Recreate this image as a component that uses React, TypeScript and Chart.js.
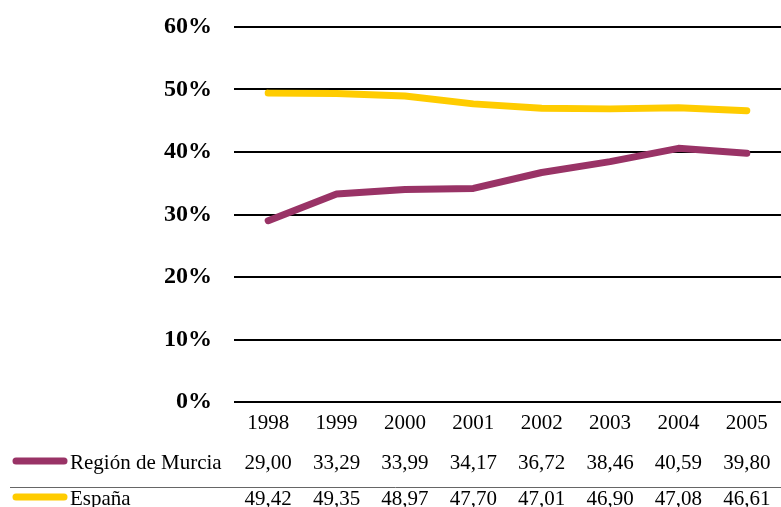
import React, { useEffect, useRef } from "react";
import { Chart, registerables } from "chart.js";

Chart.register(...registerables);

const years = ["1998", "1999", "2000", "2001", "2002", "2003", "2004", "2005"];
const murcia = [29.0, 33.29, 33.99, 34.17, 36.72, 38.46, 40.59, 39.8];
const espana = [49.42, 49.35, 48.97, 47.7, 47.01, 46.9, 47.08, 46.61];
const seriesNames = ["Región de Murcia", "España"];
const seriesColors = ["#993366", "#FFCC00"];
const yTicks = [0, 10, 20, 30, 40, 50, 60];

const FONT = "'Liberation Serif', 'Times New Roman', serif";

const fmt = (v: number) => v.toFixed(2).replace(".", ",");

const tablePlugin = {
  id: "dataTable",
  afterDraw(chart: any) {
    const ctx = chart.ctx;
    const xs = chart.scales.x;
    const rows = [murcia, espana];
    const baselines = [469, 505];
    const keyY = [461, 497];
    ctx.save();
    ctx.strokeStyle = "#666666";
    ctx.lineWidth = 1;
    ctx.beginPath();
    ctx.moveTo(10, 487.5);
    ctx.lineTo(chart.width, 487.5);
    ctx.stroke();
    rows.forEach((row, r) => {
      ctx.strokeStyle = seriesColors[r];
      ctx.lineWidth = 7;
      ctx.lineCap = "round";
      ctx.beginPath();
      ctx.moveTo(16, keyY[r]);
      ctx.lineTo(64, keyY[r]);
      ctx.stroke();
      ctx.fillStyle = "#000";
      ctx.font = `21px ${FONT}`;
      ctx.textBaseline = "alphabetic";
      ctx.textAlign = "left";
      ctx.fillText(seriesNames[r], 70, baselines[r]);
      ctx.textAlign = "center";
      row.forEach((v, i) => {
        ctx.fillText(fmt(v), xs.getPixelForValue(i), baselines[r]);
      });
    });
    ctx.restore();
  },
};

export default function App() {
  const ref = useRef<HTMLCanvasElement>(null);
  useEffect(() => {
    if (!ref.current) return;
    const chart = new Chart(ref.current, {
      type: "line",
      data: {
        labels: years,
        datasets: [
          {
            label: seriesNames[0],
            data: murcia,
            borderColor: seriesColors[0],
            backgroundColor: seriesColors[0],
            borderWidth: 7,
            pointRadius: 0,
            tension: 0,
            borderCapStyle: "round",
            borderJoinStyle: "round",
          },
          {
            label: seriesNames[1],
            data: espana,
            borderColor: seriesColors[1],
            backgroundColor: seriesColors[1],
            borderWidth: 7,
            pointRadius: 0,
            tension: 0,
            borderCapStyle: "round",
            borderJoinStyle: "round",
          },
        ],
      },
      options: {
        responsive: false,
        animation: false,
        devicePixelRatio: 1,
        layout: { padding: { top: 27, right: 0, left: 0, bottom: 0 } },
        plugins: {
          legend: { display: false },
          tooltip: { enabled: false },
        },
        scales: {
          x: {
            offset: true,
            grid: { display: false },
            border: { display: false },
            ticks: {
              color: "#000",
              font: { family: FONT, size: 21 },
              padding: 1,
              maxRotation: 0,
            },
            afterFit: (s: any) => {
              s.height = 105;
              s.paddingLeft = 0;
              s.paddingRight = 0;
            },
          },
          y: {
            min: 0,
            max: 60,
            afterBuildTicks: (s: any) => {
              s.ticks = yTicks.map((v) => ({ value: v }));
            },
            grid: { color: "#000", lineWidth: 2, drawTicks: false },
            border: { display: false },
            ticks: {
              color: "#000",
              font: { family: FONT, size: 24, weight: "bold" },
              padding: 22,
              callback: (v: any) => `${v}%`,
            },
            afterFit: (s: any) => {
              s.width = 234;
              s.paddingTop = 0;
              s.paddingBottom = 0;
            },
          },
        },
      },
      plugins: [tablePlugin],
    });
    return () => chart.destroy();
  }, []);
  return (
    <div style={{ position: "fixed", left: 0, top: 0, width: 781, height: 507, background: "#fff" }}>
      <canvas ref={ref} width={781} height={507} style={{ display: "block" }} />
    </div>
  );
}
